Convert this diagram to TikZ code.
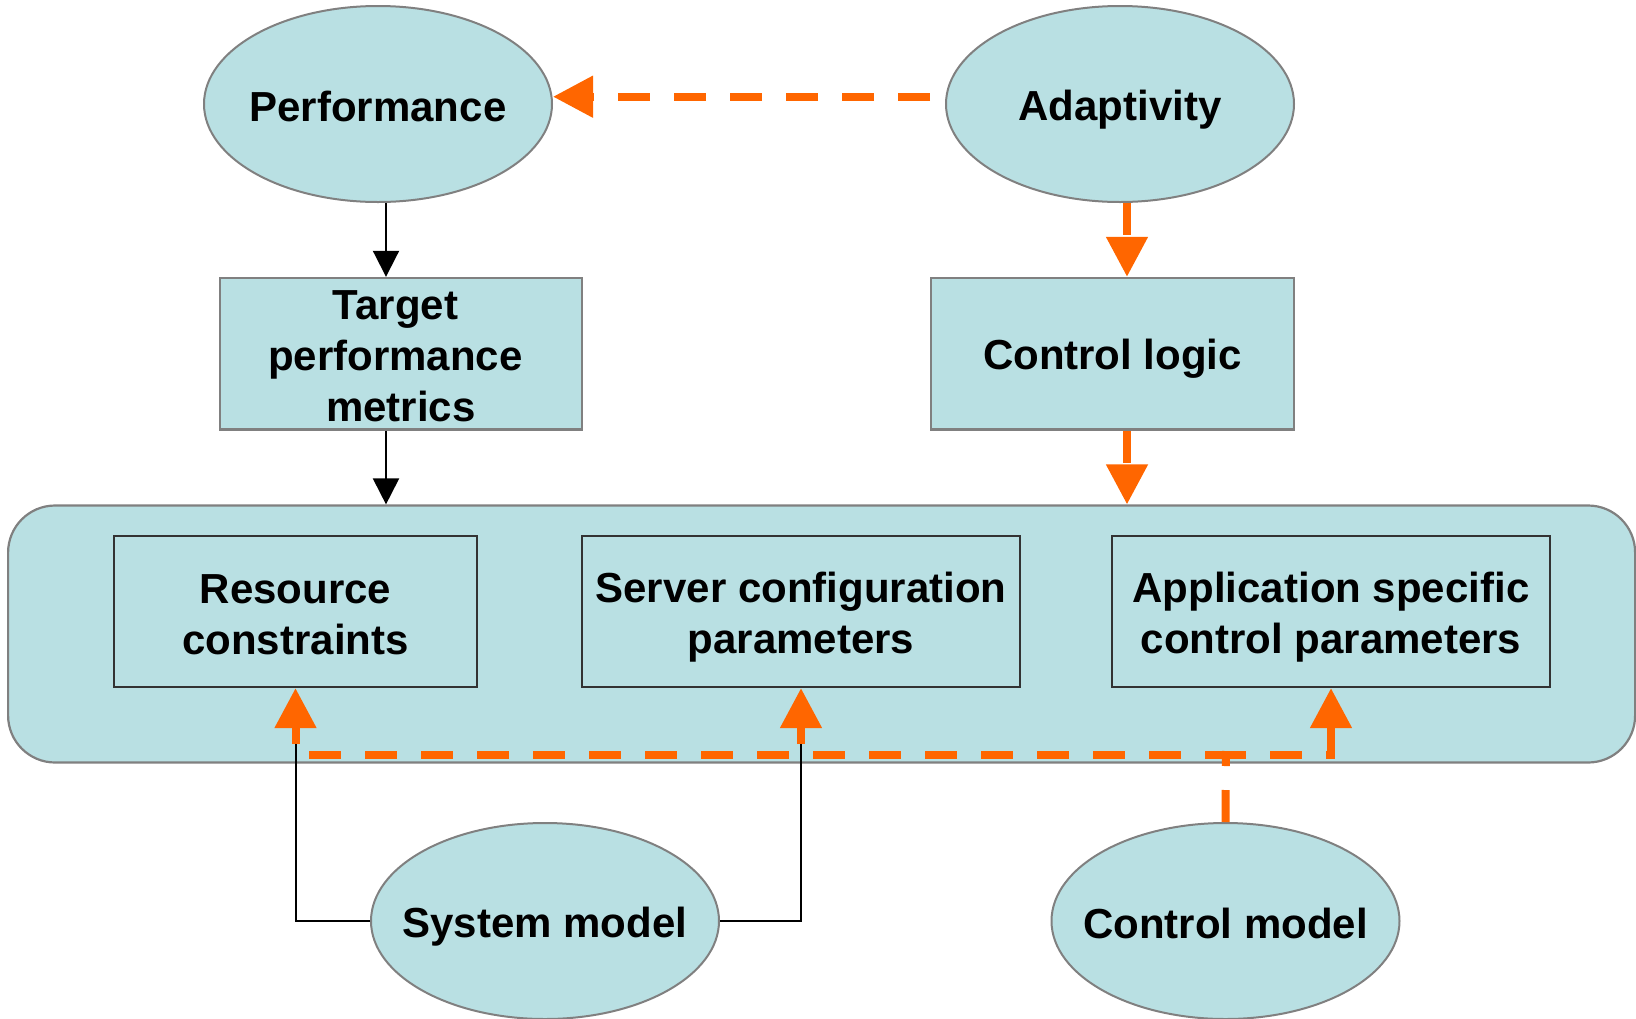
\documentclass[tikz,border=0pt]{standalone}
\usepackage{fontspec}
\setmainfont{Liberation Sans}
\usetikzlibrary{shapes.geometric,arrows.meta}
\definecolor{cellblue}{HTML}{B9E0E3}
\definecolor{flow}{HTML}{FF6600}
\definecolor{rimgray}{HTML}{808080}
\definecolor{boxedge}{HTML}{333333}
% uniform line height so every label sits on the same baseline
\newcommand{\lnstrut}{\rule[-7pt]{0pt}{48pt}}
% label of zero width, so an ellipse keeps its own size
\newcommand{\ovaltext}[1]{\makebox[0pt][c]{\lnstrut #1}}

\begin{document}
\begin{tikzpicture}[x=1pt,y=-1pt,
  label text/.style={font=\fontsize{42}{51}\selectfont\bfseries, align=center, text=black},
  oval/.style={ellipse, draw=rimgray, line width=2pt, fill=cellblue,
    minimum width=348pt, minimum height=196pt, inner sep=0pt, label text},
  outerbox/.style={rectangle, draw=rimgray, line width=2.5pt, fill=cellblue,
    minimum width=362pt, minimum height=151.5pt, inner sep=0pt, label text},
  innerbox/.style={rectangle, draw=boxedge, line width=2.2pt, fill=cellblue,
    minimum height=151pt, inner sep=0pt, label text},
  panelbox/.style={rectangle, rounded corners=47pt, draw=rimgray, line width=2.2pt,
    fill=cellblue, minimum width=1627pt, minimum height=257pt, inner sep=0pt},
  plain arrow/.style={draw=black, line width=2pt, -{Triangle[length=26pt,width=26pt]}},
  plain line/.style={draw=black, line width=2pt},
  flow arrow/.style={draw=flow, line width=8pt, dash pattern=on 32pt off 24pt,
    -{Triangle[length=40pt,width=40pt]}},
  flow line/.style={draw=flow, line width=8pt, dash pattern=on 32pt off 24pt},
  flow stub/.style={draw=flow, line width=8pt, -{Triangle[length=40pt,width=40pt]}},
]
\useasboundingbox (0,0) rectangle (1636,1018);

% top row
\node[oval] (perf) at (378,104) {\ovaltext{Performance}};
\node[oval] (adap) at (1120,104) {\ovaltext{Adaptivity}};

% middle row
\node[outerbox] (tgt) at (401,353.8)
  {\lnstrut Target\kern11pt\\\lnstrut performance\kern11pt\\\lnstrut metrics};
\node[outerbox, minimum width=363pt] (ctl) at (1112.5,353.8) {\lnstrut Control logic};

% parameter panel
\node[panelbox] (panel) at (821.6,634) {};
\node[innerbox, minimum width=363pt] (rc) at (295.5,611.5)
  {\lnstrut Resource\\\lnstrut constraints};
\node[innerbox, minimum width=438pt] (sc) at (801,611.5)
  {\lnstrut Server configuration\\\lnstrut parameters};
\node[innerbox, minimum width=438pt] (ap) at (1331,611.5)
  {\lnstrut Application specific\\\lnstrut control parameters};

% models
\node[oval] (sm) at (545,921) {\ovaltext{System model}};
\node[oval] (cm) at (1225.5,921) {\ovaltext{Control model}};

% performance chain
\draw[plain arrow] ([xshift=8pt]perf.south) -- ([xshift=8pt]perf.south |- tgt.north);
\draw[plain arrow] ([xshift=-15pt]tgt.south) -- ([xshift=-15pt]tgt.south |- panel.north);

% adaptivity chain
\coordinate (adapout) at ([xshift=-15pt,yshift=7.3pt]adap.west);
\draw[flow arrow] (adapout) -- (adapout -| perf.east);
\draw[flow arrow] ([xshift=7pt]adap.south) -- ([xshift=7pt]adap.south |- ctl.north);
\draw[flow arrow] ([xshift=14.5pt]ctl.south) -- ([xshift=14.5pt]ctl.south |- panel.north);

% control model feed
\coordinate (junction) at (1226,755);
\coordinate (feedleft) at (309,755);
\draw[flow line] (cm.north) -- ([yshift=4pt]junction);
\draw[flow line] (feedleft) -- ([xshift=12pt]junction);
\draw[flow arrow] ([xshift=-12pt]junction) -- (junction -| ap.south) -- (ap.south);

% system model feed
\coordinate (rcin) at (295.5,744);
\coordinate (scin) at (801,744);
\draw[plain line] (sm.west) -| (rcin);
\draw[plain line] (sm.east) -| (scin);
\draw[flow stub] (rcin) -- (rc.south);
\draw[flow stub] (scin) -- (sc.south);
\end{tikzpicture}
\end{document}
